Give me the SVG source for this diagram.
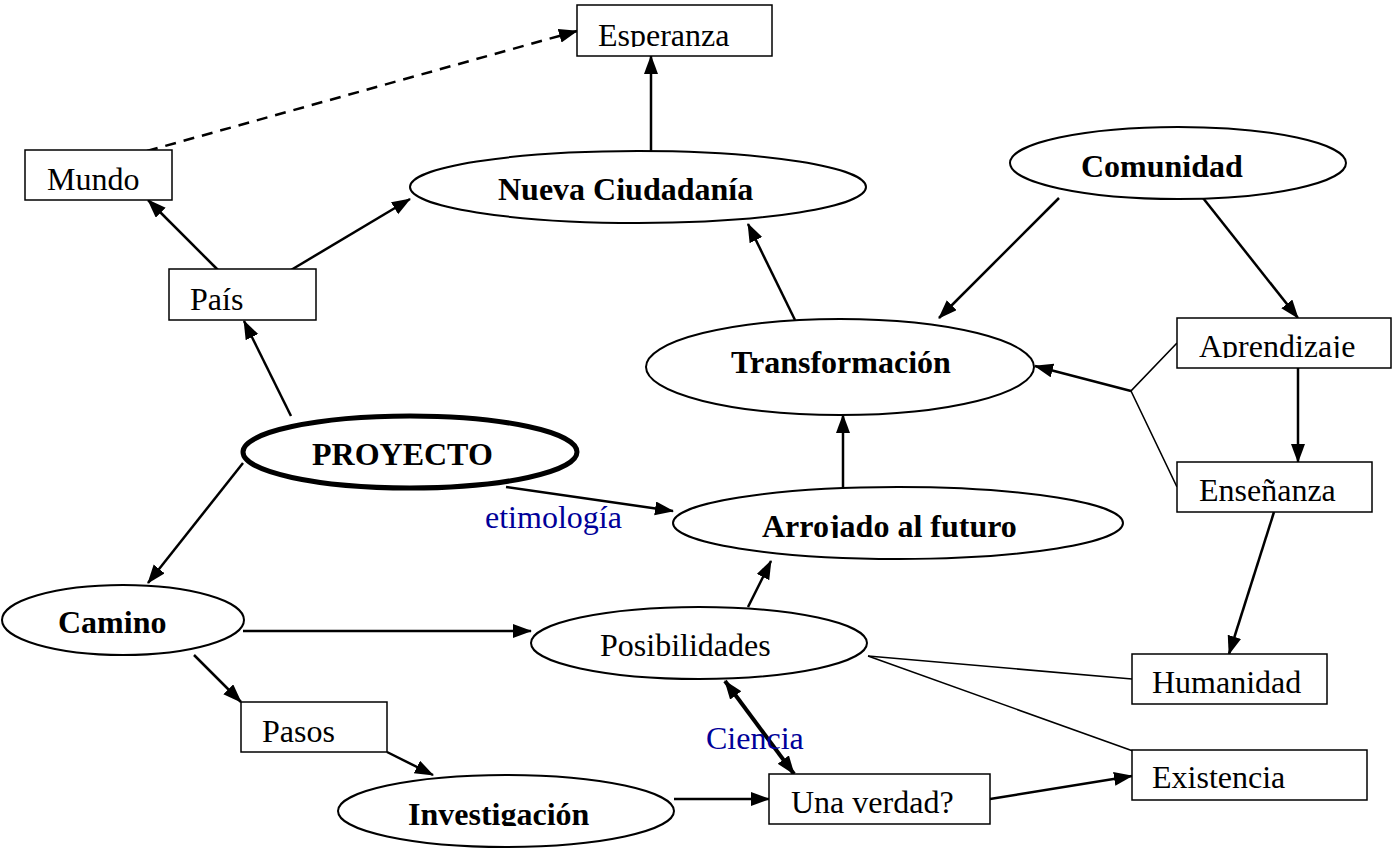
<svg xmlns="http://www.w3.org/2000/svg" width="1393" height="851" viewBox="0 0 1393 851">
<style>
.box{fill:#fff;stroke:#000;stroke-width:1.5}
.ell{fill:#fff;stroke:#000;stroke-width:2}
.t{font-family:"Liberation Serif","Times New Roman",serif;font-size:32px;fill:#000}
.b{font-weight:bold}
.lbl{font-family:"Liberation Serif","Times New Roman",serif;font-size:32px;fill:#000099}
.arr{fill:none;stroke:#000;stroke-width:2.5;marker-end:url(#ah)}
.thin{fill:none;stroke:#000;stroke-width:1.6}
</style>
<defs>
<marker id="ah" markerUnits="userSpaceOnUse" markerWidth="20" markerHeight="16" refX="18" refY="7" orient="auto-start-reverse" viewBox="0 0 20 16">
<path d="M0,0 L19,7 L0,14 z" fill="#000"/>
</marker>
<clipPath id="cEsp"><rect x="577" y="5" width="195" height="42"/></clipPath>
<clipPath id="cApr"><rect x="1177" y="318" width="216" height="40"/></clipPath>
<clipPath id="cArr"><rect x="674" y="487" width="450" height="51"/></clipPath>
<clipPath id="cInv"><rect x="338" y="775" width="336" height="51"/></clipPath>
</defs>
<rect width="1393" height="851" fill="#fff"/>

<g id="connectors">
<line x1="147" y1="151" x2="577" y2="31" fill="none" stroke="#000" stroke-width="2.5" stroke-dasharray="11,8" marker-end="url(#ah)"/>
<line class="arr" x1="218" y1="270" x2="148" y2="200"/>
<line class="arr" x1="291" y1="270" x2="410" y2="199"/>
<line class="arr" x1="651" y1="151" x2="651" y2="56"/>
<line class="arr" x1="795" y1="320" x2="748" y2="224"/>
<line class="arr" x1="1059" y1="198" x2="939" y2="318"/>
<line class="arr" x1="1203" y1="198" x2="1298" y2="318"/>
<line class="arr" x1="1298" y1="368" x2="1298" y2="462"/>
<polyline class="thin" points="1177,343 1131,391 1177,487"/>
<line class="arr" x1="1131" y1="391" x2="1035" y2="366"/>
<line class="arr" x1="843" y1="487" x2="843" y2="415"/>
<line class="arr" x1="291" y1="416" x2="244" y2="321"/>
<line class="arr" x1="243" y1="463" x2="148" y2="583"/>
<line class="arr" x1="506" y1="487" x2="673" y2="511"/>
<line class="arr" x1="243" y1="631" x2="531" y2="631"/>
<line class="arr" x1="194" y1="655" x2="241" y2="702"/>
<line class="arr" x1="387" y1="752" x2="433" y2="775"/>
<line class="arr" x1="674" y1="799" x2="769" y2="799"/>
<line class="arr" x1="748" y1="607" x2="771" y2="561"/>
<line fill="none" stroke="#000" stroke-width="4" marker-start="url(#ah)" marker-end="url(#ah)" x1="725" y1="681" x2="794" y2="774"/>
<line class="arr" x1="990" y1="799" x2="1132" y2="776"/>
<line class="arr" x1="1274" y1="512" x2="1229" y2="654"/>
<line class="thin" x1="868" y1="656" x2="1132" y2="679"/>
<line class="thin" x1="868" y1="656" x2="1133" y2="751"/>
<text class="lbl" x="485" y="528">etimología</text>
<text class="lbl" x="706" y="749">Ciencia</text>
</g>

<g id="esperanza"><rect class="box" x="577" y="5" width="195" height="51"/><text class="t" x="598" y="46" clip-path="url(#cEsp)">Esperanza</text></g>
<g id="mundo"><rect class="box" x="25" y="150" width="147" height="50"/><text class="t" x="47" y="190">Mundo</text></g>
<g id="pais"><rect class="box" x="169" y="269" width="147" height="51"/><text class="t" x="190" y="310">País</text></g>
<g id="nueva"><ellipse class="ell" cx="638" cy="187" rx="228" ry="36"/><text class="t b" x="498" y="200">Nueva Ciudadanía</text></g>
<g id="comunidad"><ellipse class="ell" cx="1178" cy="163" rx="168" ry="36"/><text class="t b" x="1081" y="177">Comunidad</text></g>
<g id="transformacion"><ellipse class="ell" cx="840" cy="367" rx="194" ry="48"/><text class="t b" x="731" y="373">Transformación</text></g>
<g id="aprendizaje"><rect class="box" x="1177" y="318" width="214" height="50"/><text class="t" x="1199" y="357" clip-path="url(#cApr)">Aprendizaje</text></g>
<g id="ensenanza"><rect class="box" x="1177" y="462" width="195" height="50"/><text class="t" x="1199" y="501">Enseñanza</text></g>
<g id="proyecto"><ellipse cx="410" cy="452" rx="167" ry="36" fill="#fff" stroke="#000" stroke-width="5"/><text class="t b" x="312" y="465">PROYECTO</text></g>
<g id="arrojado"><ellipse class="ell" cx="898" cy="523" rx="225" ry="36"/><text class="t b" x="762" y="537" clip-path="url(#cArr)">Arrojado al futuro</text></g>
<g id="camino"><ellipse class="ell" cx="123" cy="620" rx="121" ry="35"/><text class="t b" x="58" y="633">Camino</text></g>
<g id="posibilidades"><ellipse class="ell" cx="699" cy="643" rx="168" ry="36"/><text class="t" x="600" y="656">Posibilidades</text></g>
<g id="pasos"><rect class="box" x="241" y="702" width="146" height="50"/><text class="t" x="262" y="742">Pasos</text></g>
<g id="investigacion"><ellipse class="ell" cx="506" cy="811" rx="168" ry="36"/><text class="t b" x="408" y="825" clip-path="url(#cInv)">Investigación</text></g>
<g id="unaverdad"><rect class="box" x="769" y="774" width="221" height="50"/><text class="t" x="791" y="813">Una verdad?</text></g>
<g id="humanidad"><rect class="box" x="1132" y="654" width="195" height="50"/><text class="t" x="1152" y="693">Humanidad</text></g>
<g id="existencia"><rect class="box" x="1132" y="750" width="235" height="50"/><text class="t" x="1152" y="788">Existencia</text></g>
</svg>
